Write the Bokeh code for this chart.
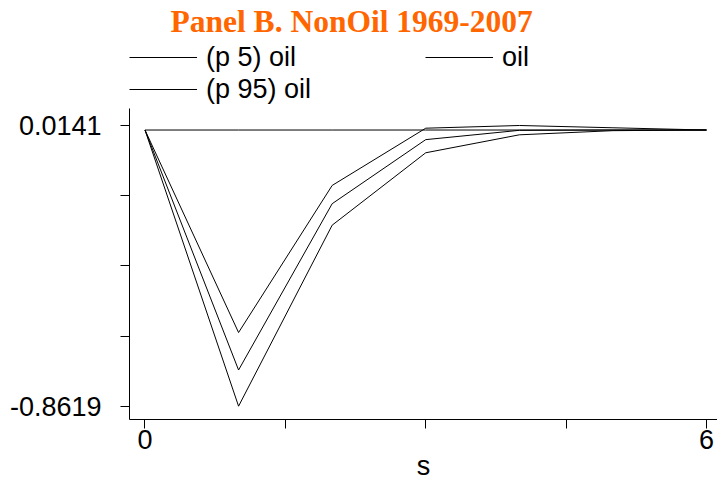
from bokeh.plotting import figure
from bokeh.models import Range1d, FixedTicker, Legend, LegendItem, Title
from bokeh.embed import file_html
from bokeh.resources import INLINE

# data
s = [0, 1, 2, 3, 4, 5, 6]
p5_oil = [0.0, -0.8619, -0.297, -0.071, -0.015, -0.002, 0.0]
oil = [0.0, -0.749, -0.230, -0.030, -0.001, 0.000, 0.0]
p95_oil = [0.0, -0.632, -0.173, 0.0057, 0.0141, 0.007, 0.0]
zero_line = [0, 0, 0, 0, 0, 0, 0]

y_ticks = [-0.8619, -0.6429, -0.4239, -0.2049, 0.0141]
y_labels = {-0.8619: "-0.8619", -0.6429: "", -0.4239: "", -0.2049: "", 0.0141: "0.0141"}
x_ticks = [0, 1.5, 3, 4.5, 6]
x_labels = {0: "0", 1.5: "", 3: "", 4.5: "", 6: "6"}
title_text = "Panel B. NonOil 1969-2007"
legend_labels = ["(p 5) oil", "oil", "(p 95) oil"]
x_title = "s"

FONT = "Liberation Sans"

# frame spans page y 39..419; axis line limited to the plotting region
y_axis_bounds = (-0.90342, 0.06715)

p = figure(width=717, height=484, output_backend="svg", toolbar_location=None,
           title_location=None,
           x_range=Range1d(-0.1656, 6.1178), y_range=Range1d(-0.90342, 0.28249),
           min_border_left=129, min_border_right=0, min_border_top=39, min_border_bottom=65)
p.outline_line_color = None
p.grid.visible = False

p.line(s, zero_line, line_color="black", line_width=1)
r1 = p.line(s, p5_oil, line_color="black", line_width=1)
r2 = p.line(s, oil, line_color="black", line_width=1)
r3 = p.line(s, p95_oil, line_color="black", line_width=1)

legend = Legend(items=[LegendItem(label=legend_labels[0], renderers=[r1]),
                       LegendItem(label=legend_labels[1], renderers=[r2]),
                       LegendItem(label=legend_labels[2], renderers=[r3])],
                orientation="horizontal", ncols=2, location=(0, 314),
                glyph_width=68, glyph_height=32, label_standoff=9, label_width=219,
                label_height=32, spacing=0, padding=0, margin=0,
                border_line_color=None, background_fill_alpha=0,
                label_text_font=FONT, label_text_font_size="27px",
                label_text_color="black")
p.add_layout(legend)

p.add_layout(Title(text=title_text, align="left", offset=41, standoff=2,
                   text_font="Liberation Serif", text_font_size="31.5px",
                   text_font_style="bold", text_color="#FF6600"), "above")

for ax in (p.xaxis[0], p.yaxis[0]):
    ax.axis_line_color = "black"
    ax.axis_line_width = 1
    ax.major_tick_line_color = "black"
    ax.major_tick_out = 9
    ax.major_tick_in = 0
    ax.minor_tick_line_color = None
    ax.major_label_text_font = FONT
    ax.major_label_text_font_size = "27px"
    ax.major_label_text_color = "black"

p.yaxis[0].ticker = FixedTicker(ticks=y_ticks)
p.yaxis[0].major_label_overrides = y_labels
p.yaxis[0].major_label_standoff = 19
p.yaxis[0].bounds = y_axis_bounds

p.xaxis[0].ticker = FixedTicker(ticks=x_ticks)
p.xaxis[0].major_label_overrides = x_labels
p.xaxis[0].major_label_standoff = 1
p.xaxis[0].axis_label = x_title
p.xaxis[0].axis_label_text_font = FONT
p.xaxis[0].axis_label_text_font_size = "27px"
p.xaxis[0].axis_label_text_font_style = "normal"
p.xaxis[0].axis_label_text_color = "black"
p.xaxis[0].axis_label_standoff = -1

open("out.html", "w").write(file_html(p, INLINE))
